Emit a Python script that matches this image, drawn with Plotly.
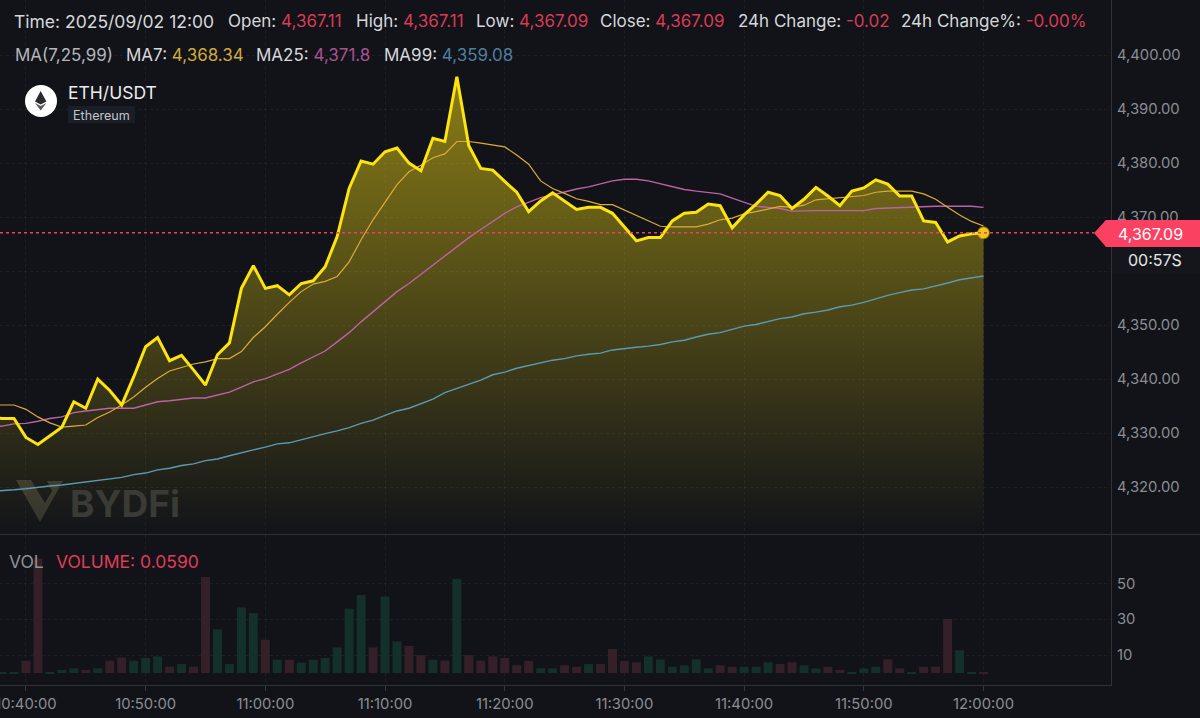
import pandas as pd
import plotly.graph_objects as go

W_PLOT = 1111
H_PLOT = 685
FONT = "Inter"
BG = "#111319"
RED = "#d93a55"
WHITE = "#d6d8db"

# one bar per minute, 10:37 sits just off the left edge
TIMES = pd.date_range("2025-09-02 10:37", periods=84, freq="min")
TIME_TICKS = pd.date_range("2025-09-02 10:40", "2025-09-02 12:00", freq="10min")

CLOSE = [
    4333.0, 4332.7, 4332.7, 4329.2, 4327.9, 4329.5, 4331.1, 4335.8, 4334.6, 4340.0,
    4337.9, 4335.2, 4340.4, 4346.0, 4347.7, 4343.4, 4344.4, 4341.7, 4338.9, 4344.5,
    4346.7, 4356.8, 4361.0, 4356.8, 4357.3, 4355.6, 4357.7, 4358.2, 4360.8, 4366.4,
    4375.3, 4380.4, 4379.8, 4382.1, 4382.8, 4380.0, 4378.6, 4384.6, 4384.0, 4396.0,
    4383.2, 4379.0, 4378.7, 4376.6, 4374.6, 4371.0, 4373.0, 4374.5, 4373.0, 4371.4,
    4371.8, 4371.8, 4370.7, 4368.1, 4365.6, 4366.2, 4366.2, 4369.3, 4370.7, 4370.9,
    4372.4, 4372.1, 4368.0, 4370.4, 4372.4, 4374.6, 4374.0, 4371.6, 4373.3, 4375.5,
    4373.9, 4372.1, 4374.8, 4375.4, 4376.9, 4376.1, 4373.9, 4373.9, 4369.3, 4369.0,
    4365.4, 4366.5, 4366.9, 4367.09,
]
MA7 = [
    4335.2, 4335.2, 4335.2, 4334.4, 4333.0, 4331.9, 4331.1, 4331.3, 4331.5, 4332.9,
    4333.9, 4335.2, 4336.7, 4338.5, 4340.1, 4341.5, 4342.1, 4342.8, 4343.2, 4343.8,
    4343.8, 4345.1, 4347.7, 4349.7, 4352.0, 4354.2, 4356.2, 4357.6, 4358.1, 4359.0,
    4361.7, 4365.8, 4369.5, 4372.8, 4376.0, 4378.4, 4379.6, 4381.0, 4381.7, 4384.0,
    4384.0, 4383.7, 4383.3, 4383.0, 4381.5, 4379.8, 4376.7, 4375.3, 4374.4, 4373.4,
    4372.9, 4372.3, 4372.3, 4371.3, 4370.2, 4369.2, 4368.3, 4368.2, 4368.2, 4368.2,
    4368.7, 4369.5, 4369.8, 4370.6, 4371.0, 4371.5, 4372.0, 4371.8, 4372.2, 4373.2,
    4373.4, 4373.5, 4373.8, 4374.0, 4374.6, 4374.8, 4374.8, 4374.8, 4374.3, 4373.3,
    4371.8, 4370.4, 4369.2, 4368.34,
]
MA25 = [
    4331.1, 4331.3, 4331.7, 4331.8, 4332.2, 4332.7, 4333.0, 4333.8, 4334.1, 4334.4,
    4334.6, 4334.6, 4334.6, 4335.2, 4335.8, 4336.0, 4336.2, 4336.5, 4336.5, 4337.0,
    4337.6, 4338.5, 4339.5, 4340.1, 4340.9, 4341.8, 4343.0, 4344.1, 4345.2, 4346.9,
    4348.6, 4350.6, 4352.5, 4354.3, 4356.2, 4357.7, 4359.4, 4361.1, 4362.7, 4364.5,
    4366.2, 4367.7, 4369.2, 4370.7, 4371.9, 4372.7, 4373.6, 4374.1, 4374.7, 4375.2,
    4375.6, 4376.2, 4376.7, 4377.0, 4377.0, 4376.7, 4376.2, 4375.7, 4375.1, 4374.8,
    4374.6, 4374.3, 4373.5, 4372.8, 4372.0, 4371.8, 4371.6, 4371.1, 4371.2, 4371.2,
    4371.2, 4371.2, 4371.2, 4371.2, 4371.6, 4371.7, 4371.7, 4371.9, 4372.0, 4372.0,
    4372.0, 4372.0, 4372.0, 4371.8,
]
MA99 = [
    4319.2, 4319.3, 4319.5, 4319.7, 4320.0, 4320.2, 4320.4, 4320.7, 4320.9, 4321.2,
    4321.5, 4321.8, 4322.3, 4322.6, 4323.2, 4323.5, 4324.0, 4324.3, 4324.9, 4325.2,
    4325.8, 4326.4, 4326.9, 4327.4, 4328.0, 4328.2, 4328.8, 4329.4, 4329.9, 4330.4,
    4331.0, 4331.8, 4332.4, 4333.3, 4334.1, 4334.6, 4335.5, 4336.3, 4337.5, 4338.3,
    4339.1, 4339.8, 4340.8, 4341.3, 4342.0, 4342.5, 4343.0, 4343.5, 4343.8, 4344.3,
    4344.6, 4344.8, 4345.4, 4345.7, 4345.9, 4346.1, 4346.4, 4346.9, 4347.2, 4347.8,
    4348.3, 4348.6, 4349.2, 4349.8, 4350.1, 4350.6, 4351.2, 4351.5, 4352.1, 4352.4,
    4352.8, 4353.4, 4353.7, 4354.2, 4354.9, 4355.5, 4356.0, 4356.5, 4356.7, 4357.2,
    4357.8, 4358.4, 4358.7, 4359.08,
]
VOLUME = [
    0.3, 0.4, 0.4, 6.9, 64, 0.6, 1.7, 2.6, 1.7, 2.6, 6.9, 8.6, 6.9, 8.4, 9.3, 3.5,
    5, 3.5, 53.6, 24.4, 5, 36.7, 33.5, 18.6, 7.4, 7.4, 5.8, 7.4, 8.4, 14.3, 35.9,
    43.6, 14.3, 42.8, 17.7, 15.1, 10, 7.4, 6.9, 52.7, 10, 6.9, 9.3, 8.4, 4.3, 6.7,
    2.6, 2.6, 4.3, 3.5, 5, 5, 13.4, 6.7, 6, 9.3, 7.6, 3.5, 4.3, 7.6, 2.6, 4.3, 3.5,
    3.5, 3.5, 6, 5, 6, 4.3, 2.6, 3.5, 1.7, 0.6, 2.6, 3.5, 7.6, 2.6, 0.6, 3.5, 3.5,
    30.2, 12.7, 0.6, 0.5,
]
VOLUME_SIDE = list(
    "gggrrgggrgrrgggrgrrggggrgrggggggrggrrgrgrrr"
    "rrrggrrgrrrrggggggrrgggrrggrrgggrrgrrrggr"
)
PRICE_TICKS = [4320, 4330, 4340, 4350, 4360, 4370, 4380, 4390, 4400]
# the 4,360 label is covered by the countdown box in the original
PRICE_LABELS = ["4,320.00", "4,330.00", "4,340.00", "4,350.00", "", "4,370.00", "4,380.00", "4,390.00", "4,400.00"]
VOLUME_TICKS = [10, 30, 50]
LAST_PRICE = CLOSE[-1]


def px(x):
    return x / W_PLOT


def py(y):
    return 1 - y / H_PLOT


def label(x, y, text, size=17, color=WHITE, anchor="left"):
    return dict(
        x=px(x), y=py(y), xref="paper", yref="paper", text=text, showarrow=False,
        xanchor=anchor, yanchor="middle", borderpad=0,
        font=dict(family=FONT, size=size, color=color),
    )


def pair(x, y, name, value, color):
    return label(x, y, f'{name}: <span style="color:{color}">{value}</span>')


def poly(points, fill, layer="above"):
    path = "M" + " L".join(f"{px(a):.5f},{py(b):.5f}" for a, b in points) + " Z"
    return dict(type="path", path=path, xref="paper", yref="paper", fillcolor=fill,
                line_width=0, layer=layer)


fig = go.Figure()
fig.add_trace(go.Scatter(
    x=TIMES, y=CLOSE, mode="none", fill="tozeroy",
    fillgradient=dict(
        type="vertical", start=4311.1, stop=4396,
        colorscale=[[0, "rgba(250,222,20,0.0)"], [1, "rgba(250,222,20,0.52)"]],
    ),
))
fig.add_trace(go.Scatter(x=TIMES, y=MA99, mode="lines", line=dict(color="#5b9ab4", width=1.4)))
fig.add_trace(go.Scatter(x=TIMES, y=MA25, mode="lines", line=dict(color="#bd62a6", width=1.4)))
fig.add_trace(go.Scatter(x=TIMES, y=MA7, mode="lines", line=dict(color="#dcab3a", width=1.2)))
fig.add_trace(go.Scatter(x=TIMES, y=CLOSE, mode="lines", line=dict(color="#fde40c", width=3)))
fig.add_trace(go.Scatter(
    x=TIMES[-1:], y=CLOSE[-1:], mode="markers",
    marker=dict(size=11, color="#f5c518", line=dict(color="rgba(245,197,24,0.45)", width=2)),
))
fig.add_trace(go.Bar(
    x=TIMES, y=VOLUME, yaxis="y2", width=45000,
    marker=dict(color=["#13302a" if s == "g" else "#352029" for s in VOLUME_SIDE], line_width=0),
))

grid = dict(showgrid=True, gridcolor="rgba(255,255,255,0.05)", griddash="dot", gridwidth=1, zeroline=False)
tick_font = dict(family=FONT, size=14.8, color="#8b8d91")

fig.update_layout(
    width=1200, height=718, margin=dict(l=0, r=89, t=0, b=33),
    paper_bgcolor=BG, plot_bgcolor=BG, showlegend=False, hovermode=False,
    xaxis=dict(
        **grid, anchor="y2", type="date", automargin=False,
        range=["2025-09-02 10:37:50", "2025-09-02 12:10:39"],
        tickvals=TIME_TICKS, tickformat="%H:%M:%S",
        ticks="outside", ticklen=5, tickcolor="#34373c", tickfont=tick_font,
        showline=True, linecolor="#2f3237", ticklabeloverflow="allow", ticklabelstandoff=0,
    ),
    yaxis=dict(
        **grid, domain=[150 / H_PLOT, 1], side="right", anchor="x", automargin=False,
        range=[4311.13, 4410.2], tickvals=PRICE_TICKS, ticktext=PRICE_LABELS,
        tickfont=tick_font, showline=True, linecolor="#2f3237", ticklabelstandoff=2,
    ),
    yaxis2=dict(
        **grid, domain=[0, 150 / H_PLOT], side="right", anchor="x", automargin=False,
        range=[-6.7, 77.1], tickvals=VOLUME_TICKS,
        tickfont=tick_font, showline=True, linecolor="#2f3237", ticklabelstandoff=2,
    ),
    shapes=[
        # last price line
        dict(type="line", xref="paper", yref="y", x0=0, x1=px(1094), y0=LAST_PRICE, y1=LAST_PRICE,
             line=dict(color="#f0405f", width=1.5, dash="3px,3px"), layer="above"),
        # pane divider, runs past the axis to the page edge
        dict(type="line", xref="paper", yref="paper", x0=0, x1=px(1200), y0=py(534.5), y1=py(534.5),
             line=dict(color="#2f3237", width=1), layer="above"),
        # price tag and countdown box over the axis labels
        poly([(1094, 233), (1106, 220), (1200, 220), (1200, 247), (1106, 247)], "#fb4161"),
        dict(type="rect", xref="paper", yref="paper", x0=px(1112), x1=px(1200), y0=py(247), y1=py(274),
             fillcolor="#14161b", line_width=0, layer="above"),
        # coin badge
        dict(type="circle", xref="paper", yref="paper", x0=px(25), x1=px(57), y0=py(85), y1=py(117),
             fillcolor="#ffffff", line_width=0, layer="above"),
        poly([(40.7, 91), (35, 101.5), (40.7, 104.5), (46.4, 101.5)], "#2b2b2e"),
        poly([(35, 103), (40.7, 110.5), (46.4, 103), (40.7, 106)], "#5a5a5e"),
        dict(type="rect", xref="paper", yref="paper", x0=px(68), x1=px(135), y0=py(106), y1=py(123),
             fillcolor="#1a1e26", line_width=0, layer="above"),
        # watermark logo
        poly([(16, 480), (31, 480), (45, 503), (52, 491), (47, 481), (63, 481), (40, 522)], "#33332f", "below"),
    ],
    annotations=[
        label(13, 21, "Time: 2025/09/02 12:00", size=17.5),
        pair(227, 21, "Open", "4,367.11", RED),
        pair(355, 21, "High", "4,367.11", RED),
        pair(475, 21, "Low", "4,367.09", RED),
        pair(599, 21, "Close", "4,367.09", RED),
        pair(737, 21, "24h Change", "-0.02", RED),
        pair(900, 21, "24h Change%", "-0.00%", RED),
        label(14, 55, "MA(7,25,99)", color="#b4b6b9"),
        pair(125, 55, "MA7", "4,368.34", "#d4a83a"),
        pair(255, 55, "MA25", "4,371.8", "#a9518f"),
        pair(383, 55, "MA99", "4,359.08", "#4f7f9c"),
        label(67, 92, "ETH/USDT", size=17.5, color="#eceded"),
        label(101.5, 115, "Ethereum", size=12.6, color="#c3c5c9", anchor="center"),
        label(69, 503, "<b>BYDFi</b>", size=37, color="#3a3a36"),
        label(8, 561, "VOL", size=17.5, color="#909296"),
        label(55, 561, "VOLUME: 0.0590", size=17.5, color="#e03c58"),
        label(1150, 234, "4,367.09", size=16, color="#ffffff", anchor="center"),
        label(1155, 260, "00:57S", size=16, color="#e6e7e8", anchor="center"),
    ],
)

# page body has a default 8px margin, drop it so the chart fills the window
fig.write_html(
    "out.html",
    config={"displayModeBar": False},
    post_script="document.body.style.margin = '0';",
)
